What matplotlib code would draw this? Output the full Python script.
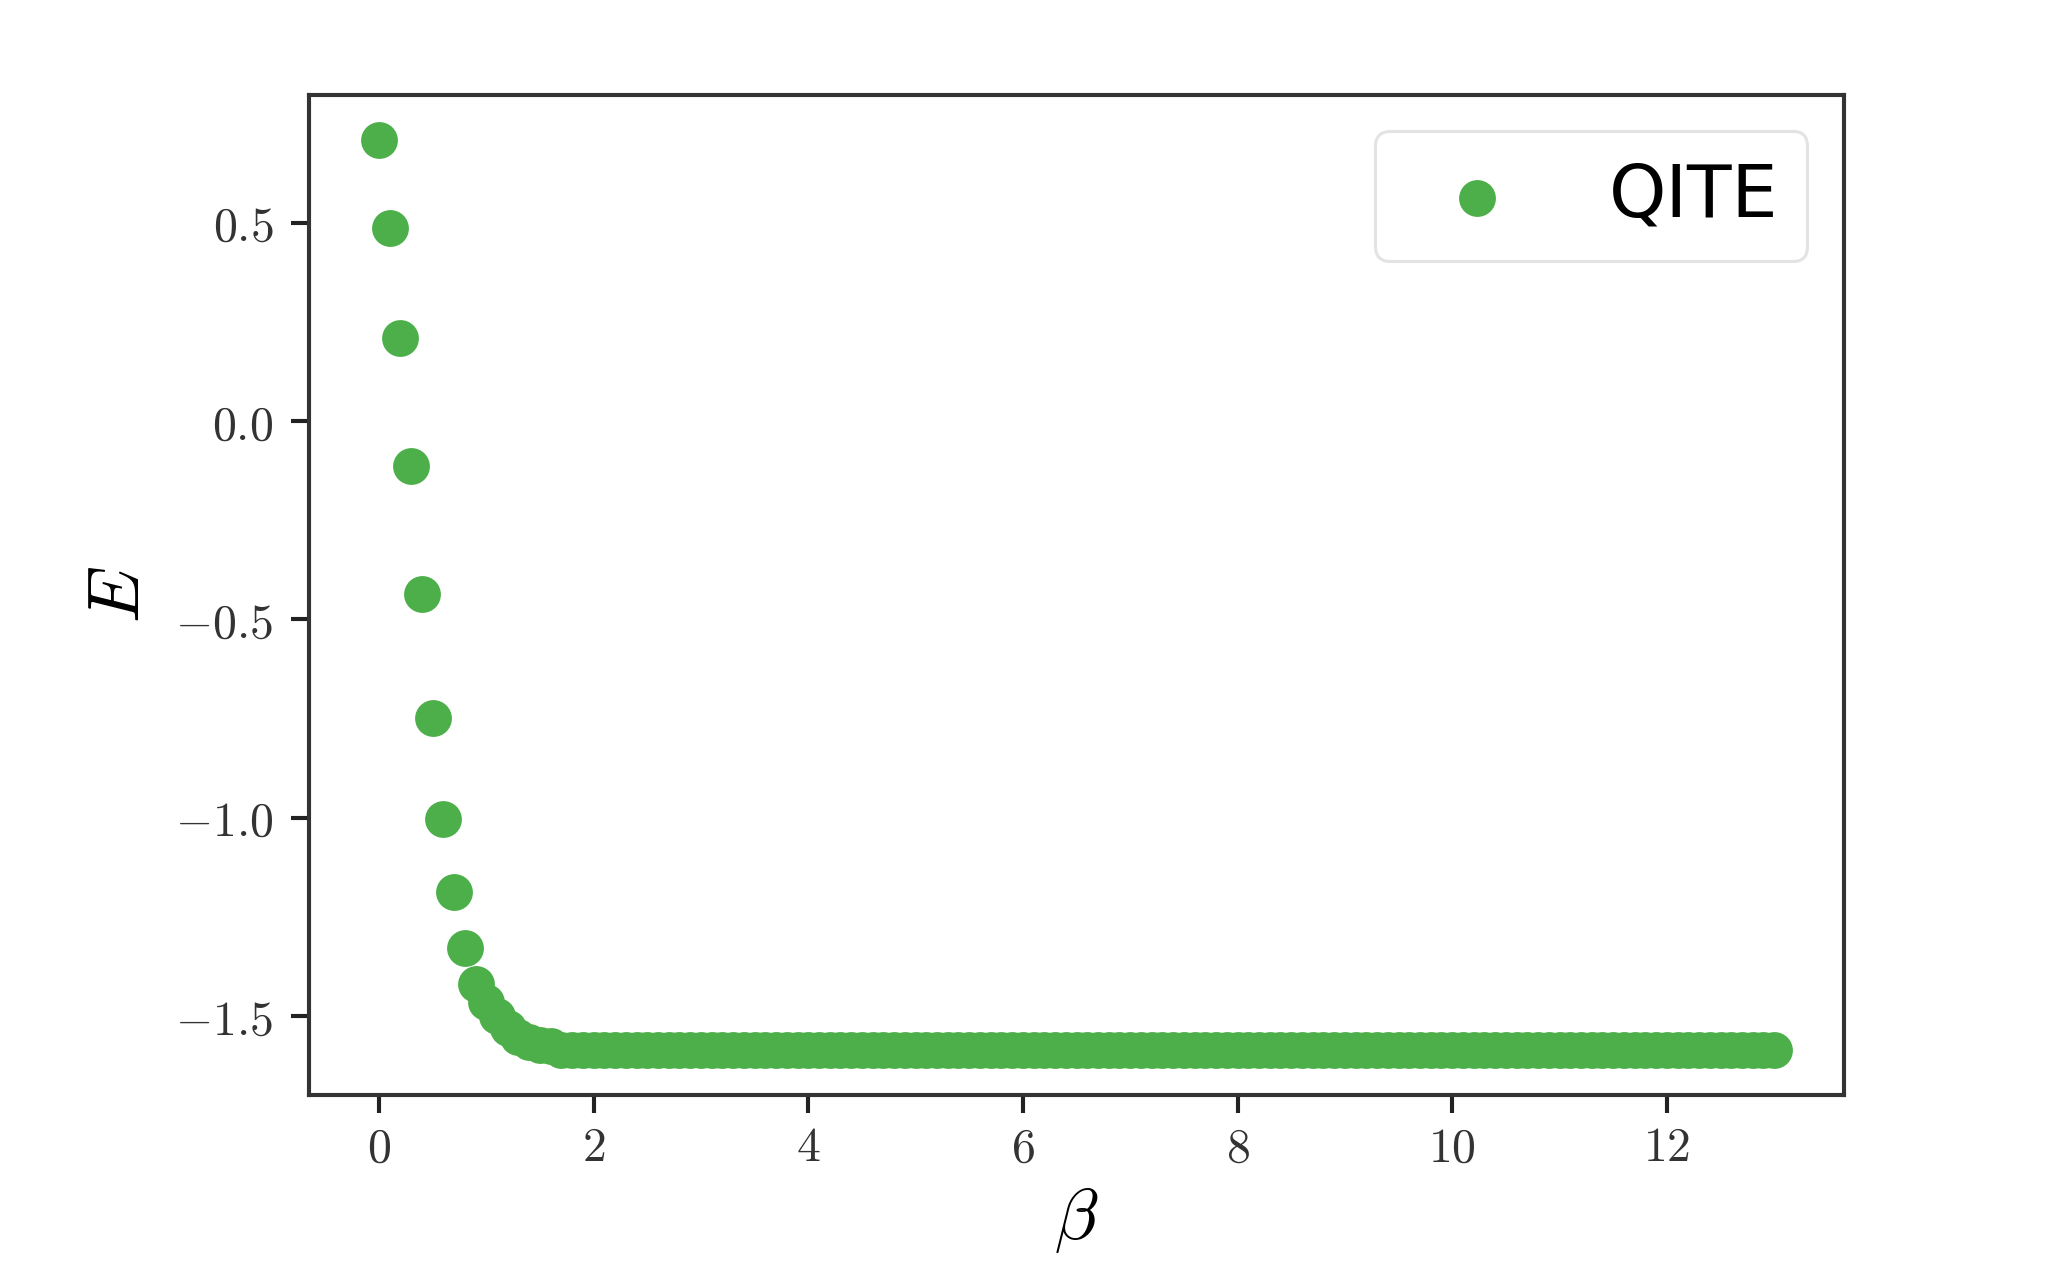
import numpy as np
import matplotlib
matplotlib.use("Agg")
import matplotlib.pyplot as plt
from matplotlib.ticker import FuncFormatter

plt.rcParams['mathtext.fontset'] = 'cm'

# imaginary time step and energies
d_beta = 0.1
n_points = 131
e_start = [0.707, 0.486, 0.210, -0.114, -0.437, -0.749, -1.005, -1.189,
           -1.328, -1.420, -1.465, -1.500, -1.530, -1.553, -1.567, -1.573,
           -1.576]
e_plateau = [-1.585] * (n_points - len(e_start))

beta = np.round(np.arange(n_points) * d_beta, 1)
energy = np.array(e_start + e_plateau)

dpi = 370
fig, ax = plt.subplots(figsize=(2061 / dpi, 1270 / dpi), dpi=dpi)
fig.subplots_adjust(left=0.150, right=0.8947, top=0.9252, bottom=0.1378)

ax.scatter(beta, energy, s=38, color='#4daf4a', label='QITE', zorder=3)

ax.set_xlabel(r'$\beta$', fontsize=14, labelpad=2.8)
ax.set_ylabel(r'$E$', fontsize=14)
ax.xaxis.set_major_formatter(FuncFormatter(lambda v, p: r'$%d$' % round(v)))
ax.yaxis.set_major_formatter(FuncFormatter(lambda v, p: r'$%.1f$' % v))
ax.tick_params(labelsize=9.3, colors='#222222', labelcolor='#333333')
ax.tick_params(axis='x', pad=2.2)
for sp in ax.spines.values():
    sp.set_color('#333333')

leg = ax.legend(loc='upper right', scatterpoints=1,
                prop={'family': 'DejaVu Sans', 'size': 14.2})
leg.get_frame().set_edgecolor('#dddddd')
leg.get_frame().set_linewidth(0.6)

fig.savefig('out.png', dpi=dpi)
